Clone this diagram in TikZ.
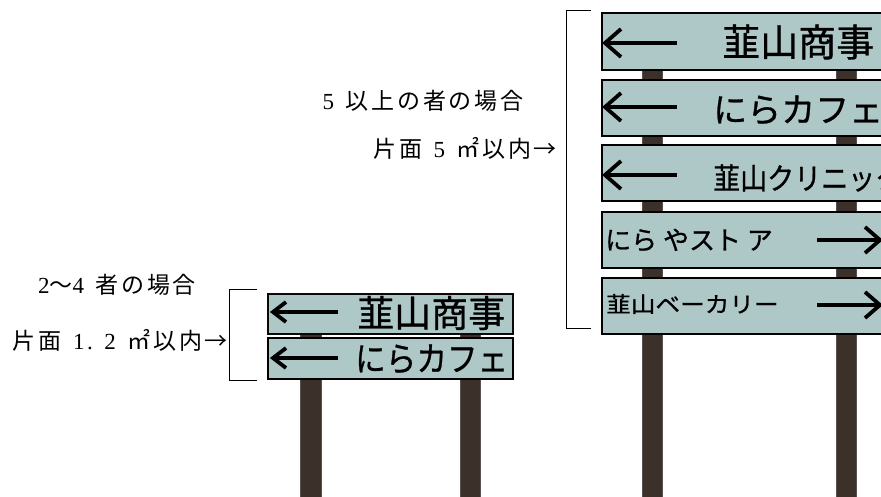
\documentclass[tikz,border=0pt]{standalone}
\usepackage{fontspec}
\newfontfamily\cjk{Noto Sans CJK JP}
\newfontfamily\cjkb{Noto Sans CJK JP}[FakeBold=0.8]
\newfontfamily\cjkl{Noto Sans CJK JP}[LetterSpace=12]
\newfontfamily\dgt{Liberation Serif}[LetterSpace=12]
\definecolor{panelc}{RGB}{174,200,200}
\definecolor{postc}{RGB}{60,48,42}
\newcommand\fs[1]{\fontsize{#1}{#1}\selectfont}
\newcommand\hs{\hspace{0.5em}}
% #1 tip x, #2 end x, #3 y, #4 head depth, #5 head half height
\newcommand\larrow[5]{\draw[arrowglyph] (#1+3,#3) -- (#2,#3); \draw[arrowglyph] (#1+#4,#3-#5) -- (#1,#3) -- (#1+#4,#3+#5);}
\newcommand\rarrow[5]{\draw[arrowglyph] (#1,#3) -- (#2-3,#3); \draw[arrowglyph] (#2-#4,#3-#5) -- (#2,#3) -- (#2-#4,#3+#5);}
\begin{document}
\begin{tikzpicture}[x=1pt,y=-1pt,
  post/.style={fill=postc,draw=postc!60!gray,line width=0.6},
  panel/.style={fill=panelc,draw=black,line width=1.6,inner sep=0,anchor=north west},
  arrowglyph/.style={line width=3.8,line cap=butt,line join=miter},
  lbl/.style={font=\cjkl\fs{23},inner sep=0},
  ptxt/.style={font=\cjkb,inner sep=0},
  brk/.style={line width=1}]
\useasboundingbox (0,0) rectangle (881,496);
\clip (0,0) rectangle (881,496);
% ---- left sign ----
\fill[post] (300,295) rectangle (321,497);
\fill[post] (460,295) rectangle (480,497);
\node[panel,draw=black!80!postc,minimum width=245,minimum height=40] (L1) at (267,293) {};
\node[panel,minimum width=245,minimum height=41] (L2) at (267,337) {};
\larrow{273}{338}{312}{13}{10}
\larrow{273}{338}{358}{13}{10}
\node[ptxt,anchor=west] (L1t) at (357,313) {\fs{37}韮山商事};
\node[ptxt,anchor=west] (L2t) at (355,359) {\scalebox{0.9}[1]{\fs{34}にらカフェ}};
% ---- right sign ----
\fill[post] (642,12) rectangle (662,497);
\fill[post] (836,12) rectangle (856,497);
\node[panel,minimum width=320,minimum height=57] (R1) at (601,12) {};
\node[panel,minimum width=320,minimum height=56] (R2) at (601,79) {};
\node[panel,minimum width=320,minimum height=56] (R3) at (601,144) {};
\node[panel,minimum width=320,minimum height=56] (R4) at (601,211) {};
\node[panel,minimum width=320,minimum height=56] (R5) at (601,277) {};
\larrow{605}{677}{43}{16}{14}
\larrow{605}{677}{107}{16}{14}
\larrow{605}{677}{175}{16}{14}
\rarrow{817}{880}{240}{15}{13}
\rarrow{817}{880}{305}{15}{13}
\node[ptxt,anchor=west] (R1t) at (722,42) {\fs{38}韮山商事};
\node[ptxt,anchor=west] (R2t) at (713,110) {\fs{34}にらカフェ};
\node[ptxt,anchor=west] (R3t) at (713,178) {\scalebox{0.9}[1]{\fs{30}韮山クリニック}};
\node[ptxt,anchor=west] (R4t) at (605,240) {\fs{26}にら やスト ア};
\node[ptxt,anchor=west] (R5t) at (606,304) {\scalebox{1.12}[1]{\fs{22}韮山ベーカリー}};
% ---- brackets ----
\draw[brk] (257,289) -- (229,289) -- (229,380) -- (257,380);
\draw[brk] (591,10) -- (566,10) -- (566,328) -- (591,328);
% ---- labels ----
\node[lbl] (t1) at (117,285) {{\dgt 2}〜{\dgt 4}\hs 者の場合};
\node[lbl,anchor=east] (t2) at (228,340) {片面\hs{\dgt 1.\hs 2}\hs ㎡以内→};
\node[lbl] (t3) at (423,101) {{\dgt 5}\hs 以上の者の場合};
\node[lbl,anchor=east] (t4) at (557,148) {片面\hs{\dgt 5}\hs ㎡以内→};
\end{tikzpicture}
\end{document}
